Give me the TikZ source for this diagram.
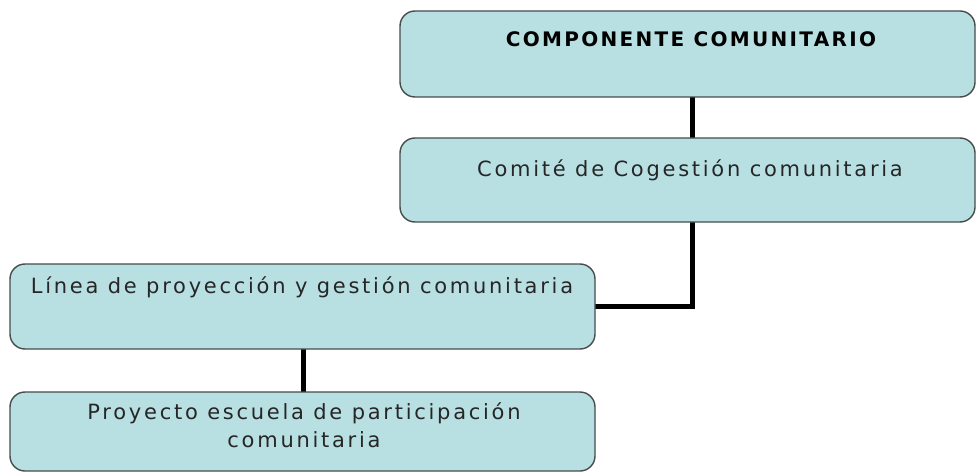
\documentclass[tikz,border=0pt]{standalone}
\usepackage{fontspec}
\setmainfont{DejaVu Sans}
\newfontfamily\regfont{DejaVu Sans}[LetterSpace=13]
\newfontfamily\boldfont{DejaVu Sans Bold}[LetterSpace=11.5]
\definecolor{boxfill}{RGB}{184,224,227}
\definecolor{boxedge}{RGB}{70,75,75}
\begin{document}
\begin{tikzpicture}[x=1pt,y=-1pt,
  cbox/.style={draw=boxedge,line width=1.4pt,fill=boxfill,rounded corners=15pt},
  conn/.style={line width=5pt,black},
  lbl/.style={font=\fontsize{21}{28}\regfont,text=black!85,align=center,inner sep=0pt,anchor=base}]
\useasboundingbox (0,0) rectangle (976,473);
% connectors first (behind boxes)
\coordinate (c1t) at (692,97);
\coordinate (c1b) at (692,138);
\coordinate (c2t) at (692,222);
\coordinate (c2k) at (692,306);
\coordinate (c2e) at (595,306);
\coordinate (c3t) at (303,349);
\coordinate (c3b) at (303,392);
\draw[conn] (c1t) -- (c1b);
\draw[conn] (c2t) -- (c2k) -- (c2e);
\draw[conn] (c3t) -- (c3b);
% boxes
\draw[cbox] (400,11) rectangle (975,97);
\draw[cbox] (400,138) rectangle (975,222);
\draw[cbox] (10,264) rectangle (595,349);
\draw[cbox] (10,392) rectangle (595,471);
% labels
\node[lbl,font=\fontsize{20}{28}\boldfont,text=black] (t1) at (691,47) {COMPONENTE COMUNITARIO};
\node[lbl] (t2) at (690,177) {Comité de Cogestión comunitaria};
\node[lbl] (t3) at (302,293) {Línea de proyección y gestión comunitaria};
\node[lbl] (t4) at (304,447) {Proyecto escuela de participación\\comunitaria};
\end{tikzpicture}
\end{document}
